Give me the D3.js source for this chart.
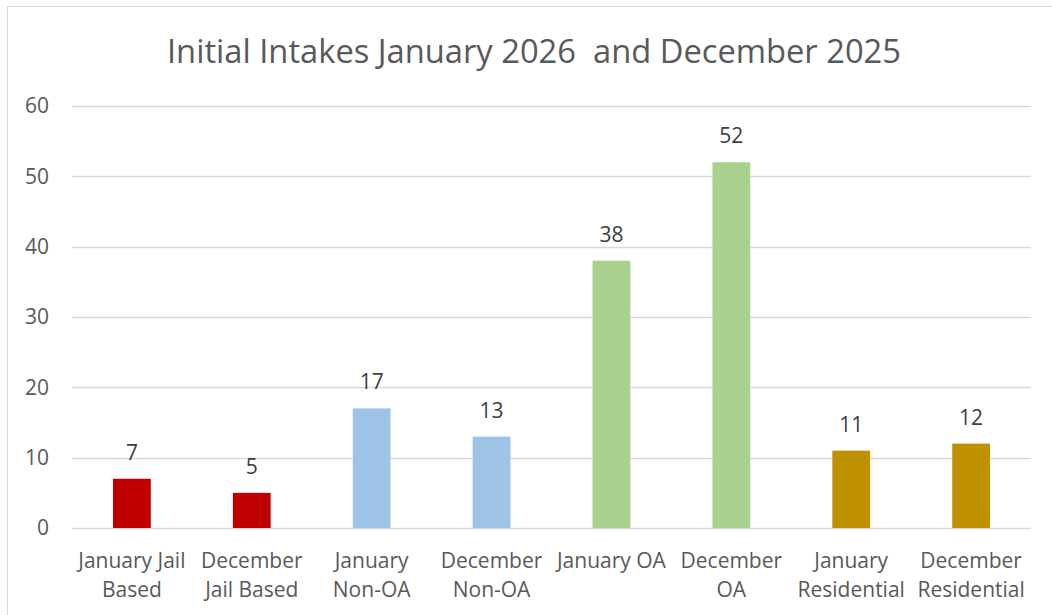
<!DOCTYPE html>
<html>
<head>
<meta charset="utf-8">
<script src="https://cdn.jsdelivr.net/npm/d3@7"></script>
<style>
  html, body { margin: 0; padding: 0; background: #fff; }
  svg { display: block; font-family: "Open Sans", "Noto Sans", sans-serif; }
</style>
</head>
<body>
<svg id="chart" width="1052" height="615"></svg>
<script>
// Intake counts by program, January 2026 vs December 2025
const categories = [
  ["January Jail", "Based"],
  ["December", "Jail Based"],
  ["January", "Non-OA"],
  ["December", "Non-OA"],
  ["January OA", ""],
  ["December", "OA"],
  ["January", "Residential"],
  ["December", "Residential"]
];
const values = [7, 5, 17, 13, 38, 52, 11, 12];
const barColors = ["#C00000", "#C00000", "#9DC3E6", "#9DC3E6", "#A9D18E", "#A9D18E", "#BF9000", "#BF9000"];
const yTicks = [0, 10, 20, 30, 40, 50, 60];
const title = "Initial Intakes January 2026  and December 2025";

const svg = d3.select("#chart");
const textColor = "#595959";

// Outer chart frame
svg.append("rect")
  .attr("x", 7.5).attr("y", 6.5)
  .attr("width", 1060).attr("height", 620)
  .attr("fill", "none").attr("stroke", "#D9D9D9").attr("stroke-width", 1);

const plot = { left: 72, right: 1031, top: 106, bottom: 528 };

const x = d3.scaleBand()
  .domain(d3.range(categories.length))
  .range([plot.left, plot.right])
  .paddingInner(0.685)
  .paddingOuter(0.342);

const y = d3.scaleLinear().domain([0, 60]).range([plot.bottom, plot.top]);

// Title
svg.append("text")
  .attr("x", 534).attr("y", 63)
  .attr("text-anchor", "middle")
  .attr("fill", textColor)
  .attr("font-size", 32.7)
  .style("white-space", "pre")
  .text(title);

// Gridlines
svg.append("g")
  .selectAll("line")
  .data(yTicks)
  .join("line")
  .attr("x1", plot.left).attr("x2", plot.right)
  .attr("y1", d => Math.round(y(d)) + 0.5)
  .attr("y2", d => Math.round(y(d)) + 0.5)
  .attr("stroke", "#D9D9D9").attr("stroke-width", 1.3);

// Y axis labels
const yAxis = d3.axisLeft(y).tickValues(yTicks).tickSize(0).tickPadding(0);
const yg = svg.append("g")
  .attr("transform", `translate(${plot.left - 23},0)`)
  .call(yAxis);
yg.select(".domain").remove();
yg.selectAll("text")
  .attr("fill", textColor)
  .attr("font-size", 21)
  .attr("font-family", "'Open Sans', 'Noto Sans', sans-serif");

// Bars
svg.append("g")
  .selectAll("rect")
  .data(values)
  .join("rect")
  .attr("x", (d, i) => x(i))
  .attr("width", x.bandwidth())
  .attr("y", d => y(d))
  .attr("height", d => y(0) - y(d))
  .attr("fill", (d, i) => barColors[i]);

// Value labels
svg.append("g")
  .selectAll("text")
  .data(values)
  .join("text")
  .attr("x", (d, i) => x(i) + x.bandwidth() / 2)
  .attr("y", d => y(d) - 19)
  .attr("text-anchor", "middle")
  .attr("fill", "#404040")
  .attr("font-size", 21)
  .text(d => d);

// Category labels (two lines)
const xg = svg.append("g")
  .selectAll("text")
  .data(categories)
  .join("text")
  .attr("text-anchor", "middle")
  .attr("fill", textColor)
  .attr("font-size", 21);
xg.each(function(d, i) {
  const t = d3.select(this);
  const cx = x(i) + x.bandwidth() / 2;
  d.forEach((line, k) => {
    t.append("tspan")
      .attr("x", cx)
      .attr("y", 568 + k * 28.5)
      .text(line);
  });
});
</script>
</body>
</html>
